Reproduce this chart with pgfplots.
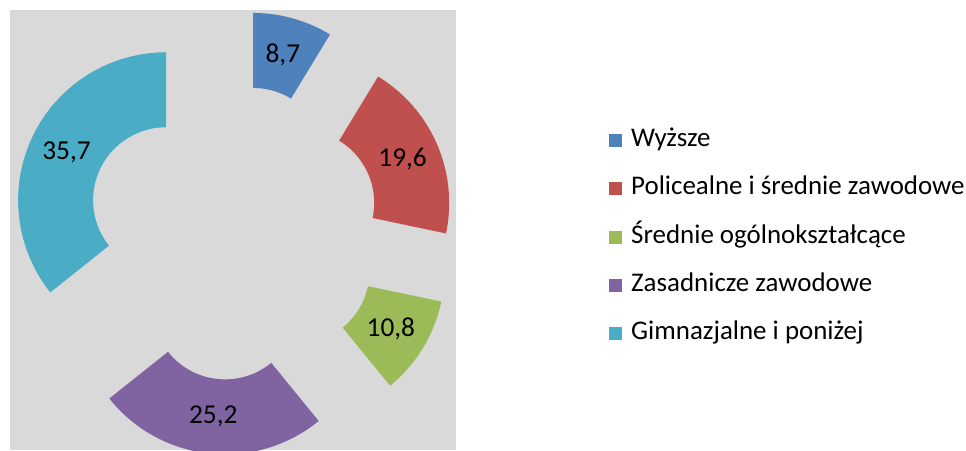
\documentclass[border=0pt]{standalone}
\usepackage{pgfplots}
\pgfplotsset{compat=1.18}
\usepackage{fontspec}
\setmainfont{Carlito}
\definecolor{cBlue}{HTML}{4F81BD}
\definecolor{cRed}{HTML}{C0504D}
\definecolor{cGreen}{HTML}{9BBB59}
\definecolor{cPurple}{HTML}{8064A2}
\definecolor{cTeal}{HTML}{4BACC6}
\definecolor{cGray}{HTML}{D9D9D9}
% geometry in pixel units (y upwards)
\def\cx{233}
\def\cy{217.5}
\def\Rout{148}
\def\Rin{73}
\def\rmid{110.5}
\def\dexp{74.3}
\def\cum{0}
\newcommand{\ringslice}[3]{%
  \pgfmathsetmacro\sa{\cum*3.6}%
  \pgfmathsetmacro\sb{(\cum+#1)*3.6}%
  \pgfmathsetmacro\sm{(\sa+\sb)/2}%
  \pgfmathsetmacro\ox{\cx+\dexp*sin(\sm)}%
  \pgfmathsetmacro\oy{\cy+\dexp*cos(\sm)}%
  \pgfmathsetmacro\lx{\ox+\rmid*sin(\sm)}%
  \pgfmathsetmacro\ly{\oy+\rmid*cos(\sm)}%
  \edef\doslice{%
    \noexpand\addplot[fill=#2, draw=none, samples at={0,1,...,40,100,101,...,140}, variable=\noexpand\t]
      ({\ox+(\noexpand\t<50 ? \Rout : \Rin)*sin(\noexpand\t<50 ? \sa+(\sb-\sa)*\noexpand\t/40 : \sb-(\sb-\sa)*(\noexpand\t-100)/40)},
       {\oy+(\noexpand\t<50 ? \Rout : \Rin)*cos(\noexpand\t<50 ? \sa+(\sb-\sa)*\noexpand\t/40 : \sb-(\sb-\sa)*(\noexpand\t-100)/40)});
    \noexpand\node[font=\noexpand\fontsize{20.5}{24}\noexpand\selectfont, text=black] at (axis cs:\lx,\ly) {#3};
  }\doslice
  \pgfmathsetmacro\newcum{\cum+#1}\xdef\cum{\newcum}%
}
\begin{document}
\begin{tikzpicture}
\useasboundingbox (0pt,0pt) rectangle (724.5pt,337.5pt);
\begin{axis}[
  at={(7.5pt,0pt)}, anchor=south west,
  width=334.5pt, height=330pt, scale only axis,
  xmin=10, xmax=456, ymin=0, ymax=440,
  axis line style={draw=none}, ticks=none,
  axis background/.style={fill=cGray},
  legend image code/.code={\fill[#1] (0pt,-4.9pt) rectangle (9.8pt,4.9pt); \path (16.5pt,0pt);},
  legend cell align=left,
  legend style={at={(1.334,0.484)}, anchor=west, draw=none, fill=none,
    font=\fontsize{20.2}{24}\selectfont, row sep=17.2pt,
    nodes={inner sep=0pt, text height=14pt, text depth=5pt}},
]
\ringslice{8.7}{cBlue}{8,7}
\ringslice{19.6}{cRed}{19,6}
\ringslice{10.8}{cGreen}{10,8}
\ringslice{25.2}{cPurple}{25,2}
\ringslice{35.7}{cTeal}{35,7}
\legend{Wyższe, Policealne i średnie zawodowe, Średnie ogólnokształcące, Zasadnicze zawodowe, Gimnazjalne i poniżej}
\end{axis}
\end{tikzpicture}
\end{document}
